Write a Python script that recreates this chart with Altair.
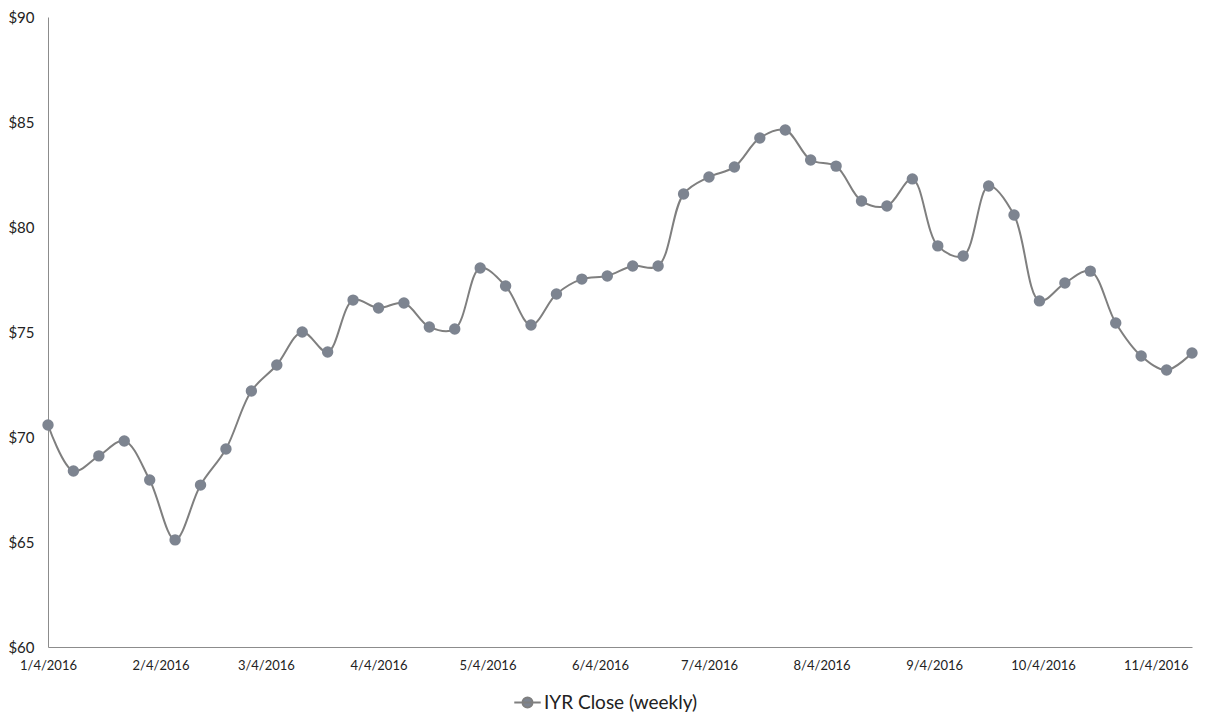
import altair as alt
import pandas as pd

dates = pd.date_range("2016-01-04", periods=46, freq="7D").strftime("%Y-%m-%d").tolist()
closes = [70.57, 68.38, 69.10, 69.81, 67.95, 65.10, 67.71, 69.43, 72.19, 73.43,
          75.00, 74.05, 76.52, 76.14, 76.38, 75.24, 75.14, 78.05, 77.19, 75.33,
          76.81, 77.52, 77.67, 78.14, 78.14, 81.57, 82.38, 82.86, 84.24, 84.62,
          83.19, 82.90, 81.24, 81.00, 82.29, 79.10, 78.62, 81.95, 80.57, 76.48,
          77.33, 77.90, 75.43, 73.86, 73.19, 74.00]
series_name = "IYR Close (weekly)"
tick_dates = [(2016, m, 4) for m in range(1, 12)]

df = pd.DataFrame({"date": dates, "close": closes, "series": series_name})

FONT = "Lato"
LINE_COLOR = "#7f7f7f"
POINT_COLOR = "#7d8490"

x_enc = alt.X(
    "date:T",
    scale=alt.Scale(type="utc",
                    domain=[alt.DateTime(year=2016, month=1, date=4, utc=True),
                            alt.DateTime(year=2016, month=11, date=14, utc=True)]),
    axis=alt.Axis(
        title=None,
        values=[alt.DateTime(year=y, month=m, date=d, utc=True) for (y, m, d) in tick_dates],
        labelExpr="utcFormat(datum.value, '%-m/%-d/%Y')",
        ticks=False,
        grid=False,
        labelPadding=12,
        labelFontSize=13,
        labelColor="#222222",
        labelFont=FONT,
        domainColor="#8c8c8c",
        labelOverlap=False,
        labelFlush=False,
        labelBound=False,
    ),
)
y_enc = alt.Y(
    "close:Q",
    scale=alt.Scale(domain=[60, 90], nice=False, zero=False),
    axis=alt.Axis(
        title=None,
        values=[60, 65, 70, 75, 80, 85, 90],
        format="$.0f",
        ticks=False,
        grid=False,
        labelPadding=14,
        labelFontSize=15,
        labelColor="#222222",
        labelFont=FONT,
        domainColor="#8c8c8c",
        labelFlush=False,
    ),
)

base = alt.Chart(df)
line = base.mark_line(interpolate="catmull-rom", color=LINE_COLOR, strokeWidth=2).encode(
    x=x_enc, y=y_enc
)
points = base.mark_point(filled=True, size=130, opacity=1).encode(
    x=x_enc,
    y=y_enc,
    color=alt.Color(
        "series:N",
        scale=alt.Scale(range=[POINT_COLOR]),
        legend=alt.Legend(
            title=None,
            orient="none",
            legendX=465,
            legendY=671,
            symbolType="M-1,0 L1,0 M-0.38,0 A0.38,0.38 0 1,0 0.38,0 A0.38,0.38 0 1,0 -0.38,0 Z",
            symbolSize=700,
            symbolStrokeColor=LINE_COLOR,
            symbolStrokeWidth=2,
            symbolFillColor=POINT_COLOR,
            symbolOpacity=1,
            labelFontSize=19,
            labelFont=FONT,
            labelColor="#222222",
            labelOffset=2,
        ),
    ),
)

chart = (
    alt.layer(line, points)
    .properties(width=1144, height=630, autosize=alt.AutoSizeParams(type="none"),
                padding={"left": 40, "top": 9, "right": 9, "bottom": 76},
                background="white")
    .configure_view(stroke="transparent", strokeWidth=0)
)

chart.save("out.html", embed_options={"renderer": "svg", "actions": False})
